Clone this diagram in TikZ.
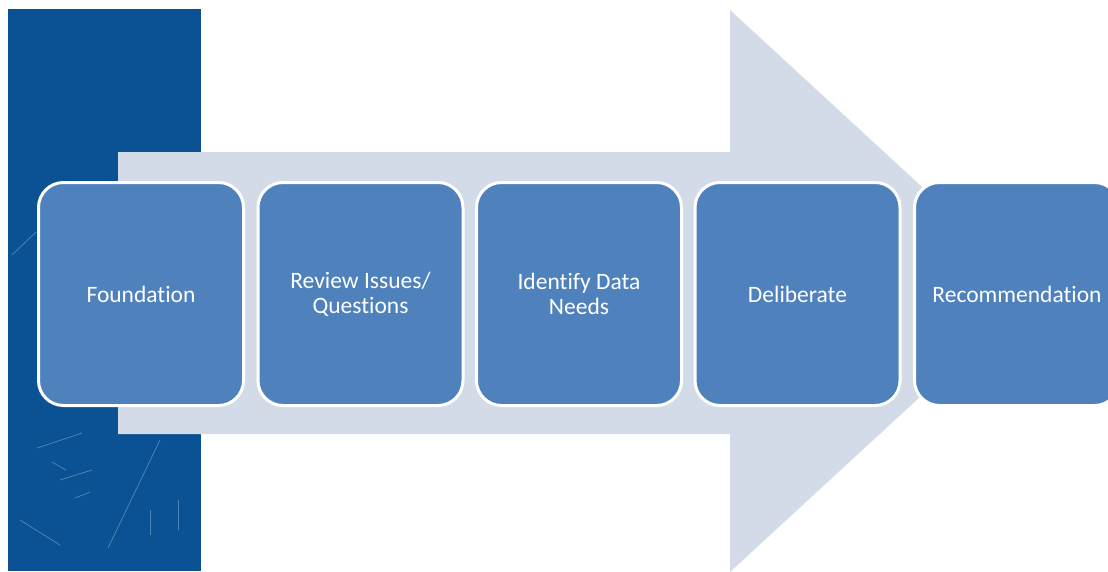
\documentclass[tikz,border=0pt]{standalone}
\usepackage{fontspec}
\setmainfont{Carlito}[Ligatures={NoCommon}]
\definecolor{bandc}{HTML}{0B5294}
\definecolor{arrowc}{HTML}{D3DBE9}
\definecolor{boxc}{HTML}{4F81BD}
\tikzset{
  stepbox/.style={draw=white, line width=3pt, fill=boxc, rounded corners=25pt,
    minimum width=205pt, minimum height=223pt, inner sep=0pt,
    text=white, align=center, font=\fontsize{23.5}{25}\selectfont},
  faint/.style={draw=white, opacity=0.28, line width=0.8pt}
}
\begin{document}
\begin{tikzpicture}[x=1pt,y=-1pt]
\useasboundingbox (0,0) rectangle (1108,571);
\clip (0,0) rectangle (1108,571);
% dark band
\fill[bandc] (8,9) rectangle (201,571);
% faint compass lines
\draw[faint] (160,440) -- (108,548);
\draw[faint] (37,448) -- (82,433);
\draw[faint] (52,462) -- (66,470);
\draw[faint] (60,480) -- (92,470);
\draw[faint] (75,498) -- (90,492);
\draw[faint] (150,510) -- (150,535);
\draw[faint] (178,500) -- (178,530);
\draw[faint] (12,255) -- (36,232);
\draw[faint] (20,520) -- (60,545);
% big light arrow
\fill[arrowc] (118,152) -- (730,152) -- (730,10) -- (1035,291) -- (730,572)
  -- (730,434) -- (118,434) -- cycle;
% steps
\node[stepbox] (n1) at (141,294) {Foundation};
\node[stepbox] (n2) at (360.5,294) {Review Issues/\\Questions};
\node[stepbox] (n3) at (579,294) {Identify Data\\Needs};
\node[stepbox] (n4) at (797.5,294) {Deliberate};
\node[stepbox] (n5) at (1017,294) {Recommendation};
\end{tikzpicture}
\end{document}
